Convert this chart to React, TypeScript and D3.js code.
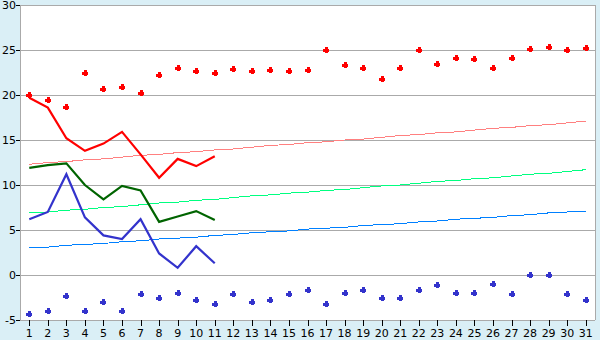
import React from "react";
import * as d3 from "d3";

const days = d3.range(1, 32);
const yTicks = [-5, 0, 5, 10, 15, 20, 25, 30];

const maxTemps = [20.0, 19.5, 18.7, 22.5, 20.7, 20.9, 20.2, 22.2, 23.0, 22.7, 22.5, 22.9, 22.7, 22.8, 22.7, 22.8, 25.0, 23.3, 23.0, 21.8, 23.0, 25.0, 23.4, 24.1, 24.0, 23.0, 24.1, 25.1, 25.3, 25.0, 25.2];
const minTemps = [-4.3, -4.0, -2.3, -4.0, -3.0, -4.0, -2.1, -2.6, -2.0, -2.8, -3.2, -2.1, -3.0, -2.8, -2.1, -1.7, -3.2, -2.0, -1.7, -2.6, -2.6, -1.7, -1.1, -2.0, -2.0, -1.0, -2.1, 0.0, 0.0, -2.1, -2.8];

const actualMax = [19.7, 18.6, 15.2, 13.8, 14.6, 15.9, 13.4, 10.8, 12.9, 12.1, 13.2];
const actualMean = [11.9, 12.2, 12.4, 10.0, 8.4, 9.9, 9.4, 5.9, 6.5, 7.1, 6.1];
const actualMin = [6.2, 7.0, 11.2, 6.4, 4.4, 4.0, 6.2, 2.4, 0.8, 3.2, 1.3];

const normalMax = [12.3, 12.5, 12.6, 12.8, 12.9, 13.1, 13.3, 13.4, 13.6, 13.7, 13.9, 14.0, 14.2, 14.4, 14.5, 14.7, 14.8, 15.0, 15.1, 15.3, 15.5, 15.6, 15.8, 15.9, 16.1, 16.3, 16.4, 16.6, 16.7, 16.9, 17.1];
const normalMean = [6.9, 7.0, 7.2, 7.3, 7.5, 7.6, 7.8, 8.0, 8.1, 8.3, 8.4, 8.6, 8.8, 8.9, 9.1, 9.2, 9.4, 9.5, 9.7, 9.9, 10.0, 10.2, 10.4, 10.5, 10.7, 10.8, 11.0, 11.2, 11.3, 11.5, 11.7];
const normalMin = [3.0, 3.1, 3.3, 3.4, 3.5, 3.7, 3.8, 4.0, 4.1, 4.2, 4.4, 4.5, 4.7, 4.8, 4.9, 5.1, 5.2, 5.3, 5.5, 5.6, 5.7, 5.9, 6.0, 6.2, 6.3, 6.4, 6.6, 6.7, 6.9, 7.0, 7.1];

const W = 600, H = 340;
const L = 20, R = 595, T = 5, B = 320;

const x = d3.scaleLinear().domain([0.5, 31.5]).range([L, R]);
const y = d3.scaleLinear().domain([-5, 30]).range([B, T]);

const lineOf = (vals: number[]) =>
  d3.line<number>().x((_, i) => x(i + 1)).y((v) => y(v))(vals) || "";

const marker = "M-1.5,-3h3v1.5h1.5v3h-1.5v1.5h-3v-1.5h-1.5v-3h1.5z";

export default function App() {
  const font = "'DejaVu Sans', Verdana, sans-serif";
  return (
    <svg width={W} height={H} style={{ position: "fixed", left: 0, top: 0 }}>
      <rect x={0} y={0} width={W} height={H} fill="#daeff6" />
      <rect x={L} y={T} width={R - L} height={B - T} fill="#ffffff" />
      {yTicks.map((t) => (
        <g key={t}>
          <line x1={L} x2={R} y1={Math.round(y(t)) + 0.5} y2={Math.round(y(t)) + 0.5} stroke="#aaaaaa" strokeWidth={1} />
          <line x1={L - 4} x2={L} y1={Math.round(y(t)) + 0.5} y2={Math.round(y(t)) + 0.5} stroke="#000" strokeWidth={1} />
          <text x={16} y={y(t) + 4} textAnchor="end" fontFamily={font} fontSize={11} fill="#000">{t}</text>
        </g>
      ))}
      <line x1={L + 0.5} x2={L + 0.5} y1={T} y2={B} stroke="#aaaaaa" />
      <line x1={R + 0.5} x2={R + 0.5} y1={T} y2={B} stroke="#aaaaaa" />
      {days.map((d) => (
        <g key={d}>
          <line x1={Math.round(x(d)) + 0.5} x2={Math.round(x(d)) + 0.5} y1={B} y2={B + 6} stroke="#000" />
          <text x={x(d)} y={336.5} textAnchor="middle" fontFamily={font} fontSize={11} fill="#000">{d}</text>
        </g>
      ))}
      <g fill="none" shapeRendering="crispEdges" strokeWidth={1}>
        <path d={lineOf(normalMax)} stroke="#ff8080" />
        <path d={lineOf(normalMean)} stroke="#00ff80" />
        <path d={lineOf(normalMin)} stroke="#0080ff" />
      </g>
      <g fill="none" strokeWidth={2.2} strokeLinejoin="miter">
        <path d={lineOf(actualMax)} stroke="#ff0000" />
        <path d={lineOf(actualMean)} stroke="#006400" />
        <path d={lineOf(actualMin)} stroke="#3333cc" />
      </g>
      <g shapeRendering="crispEdges">
        {maxTemps.map((v, i) => (
          <path key={"mx" + i} d={marker} transform={`translate(${Math.round(x(i + 1))},${Math.round(y(v))})`} fill="#ff0000" />
        ))}
        {minTemps.map((v, i) => (
          <path key={"mn" + i} d={marker} transform={`translate(${Math.round(x(i + 1))},${Math.round(y(v))})`} fill="#3333cc" />
        ))}
      </g>
    </svg>
  );
}
